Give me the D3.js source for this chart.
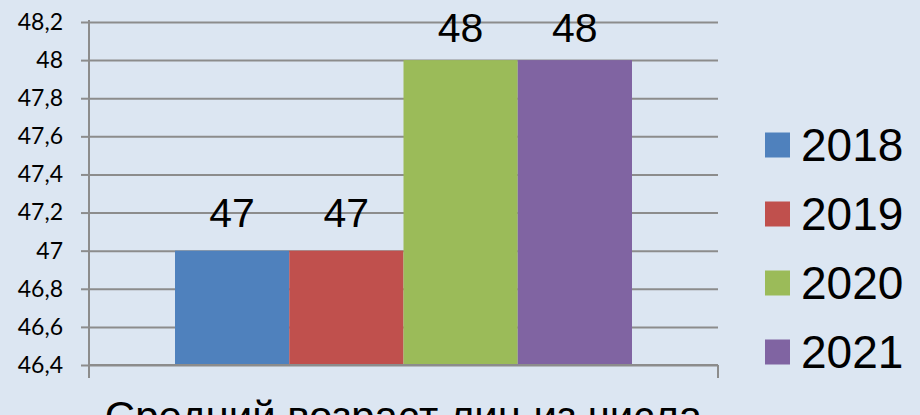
<!DOCTYPE html>
<html>
<head>
<meta charset="utf-8">
<script src="https://cdn.jsdelivr.net/npm/d3@7"></script>
<style>
  body { margin: 0; background: #dce6f2; }
  #chart svg { display: block; }
</style>
</head>
<body>
<div id="chart"></div>
<script>
// Data
const years = ['2018', '2019', '2020', '2021'];
const values = [47, 47, 48, 48];
const colors = ['#4f81bd', '#c0504d', '#9bbb59', '#8064a2'];
const yTicks = [46.4, 46.6, 46.8, 47, 47.2, 47.4, 47.6, 47.8, 48, 48.2];
const category = 'Средний возраст лиц из числа';

const width = 920;
const height = 415;
const plot = { left: 89, right: 718, top: 22, bottom: 365 };

const svg = d3.select('#chart')
  .append('svg')
  .attr('width', width)
  .attr('height', height);

const yScale = d3.scaleLinear()
  .domain([46.4, 48.2])
  .range([plot.bottom, plot.top]);

// one category, bars for each year grouped in the middle
const xScale = d3.scaleBand()
  .domain(years)
  .range([175, 632])
  .padding(0);

// Gridlines
svg.append('g')
  .attr('class', 'gridlines')
  .attr('transform', `translate(${plot.left}, 0)`)
  .call(d3.axisLeft(yScale).tickValues(yTicks).tickFormat('').tickSize(-(plot.right - plot.left)).tickSizeOuter(0))
  .call(g => g.select('.domain').remove())
  .call(g => g.selectAll('line').attr('stroke', '#8c8c8c').attr('stroke-width', 2));

// Bars
svg.append('g')
  .selectAll('rect')
  .data(values)
  .join('rect')
  .attr('x', (d, i) => xScale(years[i]))
  .attr('y', d => yScale(d))
  .attr('width', xScale.bandwidth())
  .attr('height', d => plot.bottom - yScale(d))
  .attr('fill', (d, i) => colors[i]);

// Y axis with labels
const yAxis = svg.append('g')
  .attr('transform', `translate(${plot.left}, 0)`)
  .call(d3.axisLeft(yScale).tickValues(yTicks).tickSize(8).tickSizeOuter(0).tickPadding(18)
    .tickFormat(d => String(+d.toFixed(1)).replace('.', ',')));
yAxis.select('.domain').remove();
yAxis.selectAll('line').attr('stroke', '#8c8c8c').attr('stroke-width', 2);
yAxis.selectAll('text')
  .attr('fill', '#000')
  .style('font-family', 'Lato, "Open Sans", sans-serif')
  .style('font-size', '23px');

// axis lines
svg.append('line')
  .attr('x1', plot.left).attr('x2', plot.left)
  .attr('y1', plot.top - 2).attr('y2', plot.bottom + 13)
  .attr('stroke', '#8c8c8c').attr('stroke-width', 2);
svg.append('line')
  .attr('x1', plot.left).attr('x2', plot.right)
  .attr('y1', plot.bottom).attr('y2', plot.bottom)
  .attr('stroke', '#8c8c8c').attr('stroke-width', 2);
svg.append('line')
  .attr('x1', plot.right).attr('x2', plot.right)
  .attr('y1', plot.bottom).attr('y2', plot.bottom + 13)
  .attr('stroke', '#8c8c8c').attr('stroke-width', 2);

// Data labels
svg.append('g')
  .selectAll('text')
  .data(values)
  .join('text')
  .attr('x', (d, i) => xScale(years[i]) + xScale.bandwidth() / 2)
  .attr('y', d => Math.max(yScale(d) - 24, 42))
  .attr('text-anchor', 'middle')
  .style('font-family', '"Liberation Sans", Arial, sans-serif')
  .style('font-size', '41px')
  .text(d => d);

// Category label (runs past the bottom edge, as in the picture)
svg.append('text')
  .attr('x', (plot.left + plot.right) / 2)
  .attr('y', 431)
  .attr('text-anchor', 'middle')
  .style('font-family', '"Liberation Sans", Arial, sans-serif')
  .style('font-size', '42px')
  .text(category);

// Legend
const legend = svg.append('g')
  .selectAll('g')
  .data(years)
  .join('g')
  .attr('transform', (d, i) => `translate(765, ${145 + i * 69})`);
legend.append('rect')
  .attr('x', 0).attr('y', -12.5)
  .attr('width', 25).attr('height', 25)
  .attr('fill', (d, i) => colors[i]);
legend.append('text')
  .attr('x', 36)
  .attr('y', 16)
  .style('font-family', '"Liberation Sans", Arial, sans-serif')
  .style('font-size', '46px')
  .text(d => d);
</script>
</body>
</html>
